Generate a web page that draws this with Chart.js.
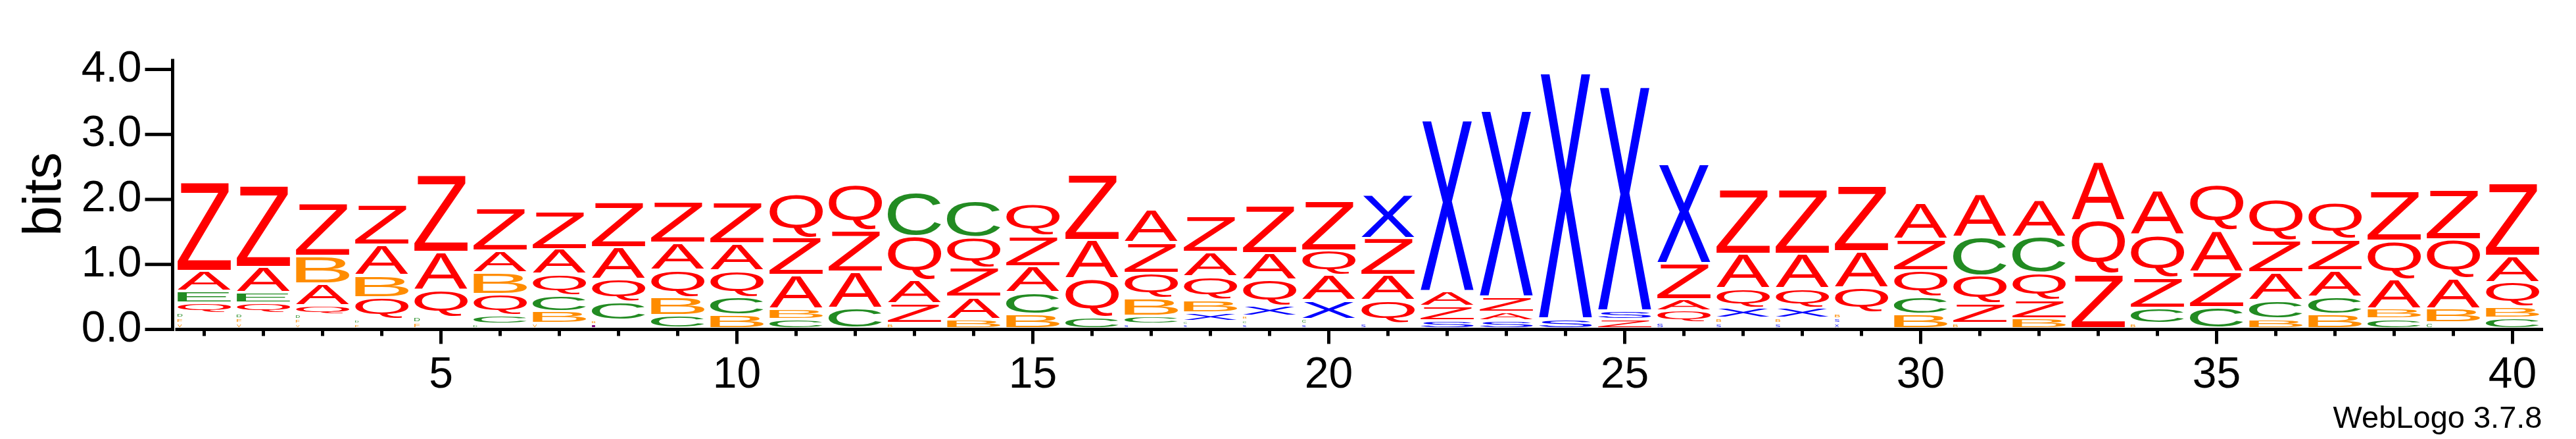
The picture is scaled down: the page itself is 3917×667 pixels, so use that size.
<!DOCTYPE html>
<html>
<head>
<meta charset="utf-8">
<title>WebLogo</title>
<style>
html, body { margin: 0; padding: 0; background: #fff; }
canvas { display: block; }
</style>
<script src="https://cdn.jsdelivr.net/npm/chart.js"></script>
<script>
// sequence positions
const positions = ['1','2','3','4','5','6','7','8','9','10','11','12','13','14','15','16','17','18','19','20',
	'21','22','23','24','25','26','27','28','29','30','31','32','33','34','35','36','37','38','39','40'];

// bits for each letter at each position (0 = absent)
const bitsA = [0.314,0.391,0.339,0.471,0.591,0.336,0.385,0.492,0.417,0.422,0.517,0.560,0.363,0.339,0.406,0.593,0.514,0.379,0.416,0.384,
	0.385,0.231,0.135,0,0,0.181,0.529,0.529,0.560,0.554,0.668,0.576,0.920,0.686,0.640,0.431,0.403,0.456,0.462,0.400];
const bitsB = [0,0,0.425,0.342,0,0.335,0.188,0.066,0.277,0.206,0.160,0,0.077,0.139,0.215,0,0.265,0.191,0.066,0,
	0,0,0,0,0,0,0.078,0.078,0.080,0.215,0.077,0.148,0,0.077,0,0.145,0.215,0.150,0.215,0.162];
const bitsC = [0,0,0,0,0,0.132,0.246,0.277,0.200,0.271,0.139,0.308,0.675,0.563,0.332,0.169,0.123,0.058,0.064,0.071,
	0,0,0,0,0,0,0,0,0,0.268,0.591,0.554,0,0.231,0.323,0.280,0.268,0.149,0.086,0.161];
const bitsD = [0.080,0.078,0.071,0.067,0.085,0.068,0,0,0,0,0,0,0,0,0,0,0,0,0,0,
	0,0,0,0,0,0,0,0,0,0,0,0,0,0,0,0,0,0,0,0];
const bitsE = [0.179,0.160,0,0,0,0,0,0,0,0,0,0,0,0,0,0,0,0,0,0,
	0,0,0,0,0,0,0,0,0,0,0,0,0,0,0,0,0,0,0,0];
const bitsF = [0.078,0.077,0.069,0.065,0.084,0,0,0,0,0,0,0,0,0,0,0,0,0,0,0,
	0,0,0,0,0,0,0,0,0,0,0,0,0,0,0,0,0,0,0,0];
const bitsI = [0,0,0,0,0,0,0,0.063,0,0,0,0,0,0,0,0,0,0,0,0,
	0,0,0,0,0,0,0,0,0,0,0,0,0,0,0,0,0,0,0,0];
const bitsQ = [0.154,0.157,0.139,0.341,0.416,0.323,0.323,0.348,0.415,0.409,0.674,0.699,0.673,0.468,0.486,0.592,0.391,0.360,0.400,0.386,
	0.357,0,0,0,0,0.179,0.308,0.308,0.394,0.403,0.434,0.416,0.828,0.662,0.699,0.637,0.560,0.585,0.600,0.385];
const bitsS = [0,0,0,0,0,0,0,0,0,0,0,0,0,0,0,0,0.068,0.055,0.062,0.068,
	0.074,0.117,0.117,0.148,0.136,0.086,0.076,0.076,0.077,0,0,0,0,0,0,0,0,0,0,0];
const bitsV = [0.076,0.076,0.068,0,0,0,0.074,0,0,0,0,0,0,0,0,0,0,0,0,0,
	0,0,0,0,0,0,0,0,0,0,0,0,0,0,0,0,0,0,0,0];
const bitsX = [0,0,0,0,0,0,0,0,0,0,0,0,0,0,0,0,0,0.130,0.148,0.286,
	0.677,2.638,2.869,3.786,3.453,1.530,0.148,0.148,0.074,0,0,0,0,0,0,0,0,0,0,0];
const bitsZ = [1.376,1.262,0.816,0.616,1.188,0.662,0.585,0.693,0.631,0.631,0.579,0.640,0.299,0.446,0.462,1.010,0.471,0.554,0.739,0.769,
	0.569,0.222,0.234,0,0.135,0.554,1.000,1.000,1.006,0.483,0.299,0.283,0.827,0.462,0.545,0.492,0.483,0.760,0.760,1.123];

const letters = ['A','B','C','D','E','F','I','Q','S','V','X','Z'];
const letterBits = [bitsA,bitsB,bitsC,bitsD,bitsE,bitsF,bitsI,bitsQ,bitsS,bitsV,bitsX,bitsZ];
const letterColors = ['#ff0000','#ff8c00','#228b22','#228b22','#228b22','#ff8c00','#800080','#ff0000','#0000ff','#ff8c00','#0000ff','#ff0000'];

const yTop = 4.16;
const FONT = '"Liberation Sans", Arial, Helvetica, sans-serif';
const GAP = 3.8;

// stack letters at every position: smallest at the bottom
function buildRanges()
{
	const ranges = letters.map(() => positions.map(() => null));
	positions.forEach((p, i) => {
		const here = [];
		letterBits.forEach((arr, li) => { if (arr[i] > 0) here.push([li, arr[i]]); });
		here.sort((a, b) => a[1] - b[1]);
		let base = 0;
		here.forEach(([li, v]) => {
			ranges[li][i] = [base, base + v];
			base += v;
		});
	});
	return ranges;
}

function drawGlyph(ctx, ch, color, x, top, w, h)
{
	ctx.save();
	ctx.font = '200px ' + FONT;
	ctx.textAlign = 'left';
	ctx.textBaseline = 'alphabetic';
	const m = ctx.measureText(ch);
	const gw = m.actualBoundingBoxLeft + m.actualBoundingBoxRight;
	const gh = m.actualBoundingBoxAscent + m.actualBoundingBoxDescent;
	ctx.translate(x, top);
	ctx.scale(w / gw, h / gh);
	ctx.fillStyle = color;
	ctx.fillText(ch, m.actualBoundingBoxLeft, m.actualBoundingBoxAscent);
	ctx.restore();
}

const glyphPlugin = {
	id: 'glyphs',
	afterDatasetsDraw(chart)
	{
		const ctx = chart.ctx;
		chart.data.datasets.forEach((ds, di) => {
			const meta = chart.getDatasetMeta(di);
			meta.data.forEach((el, i) => {
				if (ds.data[i] == null) return;
				const p = el.getProps(['x', 'y', 'base', 'width'], true);
				const top = Math.min(p.y, p.base);
				const boxH = Math.abs(p.base - p.y);
				let h = boxH - GAP;
				if (h < boxH * 0.45) h = boxH * 0.45;
				let w = p.width;
				if (h < 6) w = Math.min(w, h * 1.8);
				drawGlyph(ctx, ds.label, ds.glyphColor, p.x - p.width / 2, top, w, h);
			});
		});
	}
};

const axesPlugin = {
	id: 'logoAxes',
	afterDraw(chart)
	{
		const ctx = chart.ctx, xs = chart.scales.x, ys = chart.scales.y, a = chart.chartArea;
		const y0 = ys.getPixelForValue(0);
		const yx = a.left - 3;
		ctx.save();
		ctx.strokeStyle = '#000';
		ctx.lineWidth = 5;
		ctx.beginPath(); ctx.moveTo(yx, a.top); ctx.lineTo(yx, y0 + 2.5); ctx.stroke();
		ctx.beginPath(); ctx.moveTo(a.left + 1, y0); ctx.lineTo(a.right + 1.5, y0); ctx.stroke();
		ys.ticks.forEach(t => {
			if (t.value > 4.001) return;
			const major = Math.abs(t.value - Math.round(t.value)) < 1e-6;
			const py = ys.getPixelForValue(t.value);
			ctx.beginPath(); ctx.moveTo(yx, py); ctx.lineTo(yx - (major ? 42 : 21), py); ctx.stroke();
		});
		xs.ticks.forEach((t, i) => {
			const px = xs.getPixelForTick(i);
			const major = (i + 1) % 5 === 0;
			ctx.beginPath(); ctx.moveTo(px, y0); ctx.lineTo(px, y0 + (major ? 22 : 10)); ctx.stroke();
		});
		ctx.font = '47px ' + FONT;
		ctx.textAlign = 'right';
		ctx.textBaseline = 'alphabetic';
		ctx.fillStyle = '#000';
		ctx.fillText('WebLogo 3.7.8', a.right, 650);
		ctx.restore();
	}
};

function load()
{
	const ranges = buildRanges();
	const datasets = letters.map((L, li) => ({
		label: L,
		data: ranges[li],
		glyphColor: letterColors[li],
		backgroundColor: 'rgba(0,0,0,0)',
		borderWidth: 0,
		grouped: false,
		categoryPercentage: 1.0,
		barPercentage: 0.9
	}));

	new Chart(document.getElementById('logo'), {
		type: 'bar',
		data: { labels: positions, datasets: datasets },
		options: {
			responsive: false,
			animation: false,
			devicePixelRatio: 1,
			layout: { padding: { top: 50, right: 51.5, left: 0, bottom: 0 } },
			plugins: { legend: { display: false }, tooltip: { enabled: false } },
			scales: {
				x: {
					offset: true,
					grid: { display: false, drawTicks: false },
					border: { display: false },
					ticks: {
						autoSkip: false, maxRotation: 0, minRotation: 0, padding: 31,
						color: '#000', font: { family: FONT, size: 66 },
						callback: (v, i) => ((i + 1) % 5 === 0 ? positions[i] : '')
					},
					afterFit: s => { s.height = 166.5; }
				},
				y: {
					min: 0, max: yTop,
					grid: { display: false, drawTicks: false },
					border: { display: false },
					ticks: {
						stepSize: 0.2, includeBounds: false, padding: 50, color: '#000',
						font: { family: FONT, size: 66 },
						callback: v => (Math.abs(v - Math.round(v)) < 1e-6 && v <= 4.001 ? v.toFixed(1) : '')
					},
					title: {
						display: true, text: 'bits', color: '#000',
						font: { family: FONT, size: 82 },
						padding: { top: 20, bottom: 0 }
					},
					afterFit: s => { s.width = 265.5; }
				}
			}
		},
		plugins: [glyphPlugin, axesPlugin]
	});
}
</script>
</head>
<body onload="load();">
<canvas id="logo" width="3917" height="667"></canvas>
</body>
</html>
